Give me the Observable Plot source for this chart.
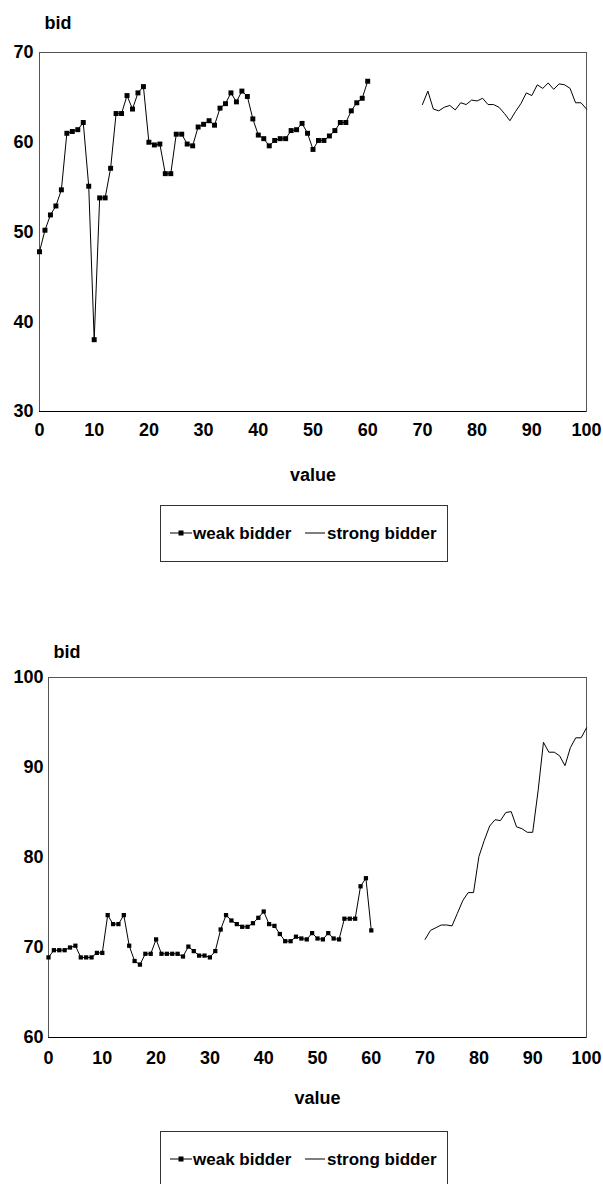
<!DOCTYPE html>
<html>
<head>
<meta charset="utf-8">
<script src="https://cdn.jsdelivr.net/npm/d3@7"></script>
<script src="https://cdn.jsdelivr.net/npm/@observablehq/plot@0.6"></script>
<style>
  html, body { margin: 0; padding: 0; background: #fff; }
  #page { position: relative; width: 603px; height: 1184px; overflow: hidden; font-family: "Liberation Sans", Arial, sans-serif; }
  .chart { position: absolute; left: 0; }
  .legend { position: absolute; left: 160px; width: 286px; height: 55px; border: 1px solid #333; box-sizing: content-box; }
  .legend .lab { position: absolute; font-size: 17px; font-weight: bold; color: #000; line-height: 17px; white-space: nowrap; }
  .legend svg { position: absolute; }
</style>
</head>
<body>
<div id="page"></div>
<script>
// ---- data ----
const xTicks = [0, 10, 20, 30, 40, 50, 60, 70, 80, 90, 100];
const yTicksTop = [30, 40, 50, 60, 70];
const yTicksBottom = [60, 70, 80, 90, 100];
const seriesNames = ["weak bidder", "strong bidder"];

// chart 1: weak bidder values for value = 0..60, strong bidder for value = 70..100
const weakStart = 0;
const strongStart = 70;
const weakTop = [47.8,50.2,51.9,52.9,54.7,61.0,61.2,61.4,62.2,55.1,
  38.0,53.8,53.8,57.1,63.2,63.2,65.2,63.7,65.5,66.2,
  60.0,59.7,59.8,56.5,56.5,60.9,60.9,59.8,59.6,61.7,
  62.0,62.4,61.9,63.8,64.3,65.5,64.5,65.7,65.1,62.6,
  60.8,60.4,59.6,60.2,60.4,60.4,61.3,61.4,62.1,61.0,
  59.2,60.2,60.2,60.7,61.3,62.2,62.2,63.5,64.4,64.9,66.8];
const strongTop = [64.2,65.7,63.7,63.5,63.9,64.1,63.6,64.4,64.2,64.7,
  64.6,64.9,64.2,64.2,63.9,63.2,62.4,63.4,64.3,65.5,
  65.2,66.4,66.0,66.6,65.9,66.5,66.4,66.0,64.4,64.4,63.7];

// chart 2
const weakBottom = [68.9,69.7,69.7,69.7,70.0,70.2,68.9,68.9,68.9,69.4,
  69.4,73.6,72.6,72.6,73.6,70.2,68.5,68.1,69.3,69.3,
  70.9,69.3,69.3,69.3,69.3,69.0,70.1,69.6,69.1,69.1,
  68.9,69.6,72.0,73.6,73.0,72.6,72.3,72.3,72.7,73.3,
  74.0,72.6,72.4,71.5,70.7,70.7,71.2,71.0,70.9,71.6,
  71.0,70.9,71.6,71.0,70.9,73.2,73.2,73.2,76.8,77.7,71.9];
const strongBottom = [70.9,71.9,72.2,72.5,72.5,72.4,73.8,75.2,76.1,76.1,
  80.1,81.9,83.5,84.2,84.1,85.0,85.1,83.4,83.2,82.8,
  82.8,87.4,92.8,91.7,91.7,91.3,90.2,92.2,93.3,93.3,94.4];

const toRows = (vals, start) => vals.map((v, i) => ({value: start + i, bid: v}));

const FONT = '"Liberation Sans", Arial, sans-serif';

function makeChart(cfg) {
  const weak = toRows(cfg.weak, weakStart);
  const strong = toRows(cfg.strong, strongStart);
  return Plot.plot({
    width: 603,
    height: cfg.height,
    marginTop: cfg.mt,
    marginBottom: cfg.mb,
    marginLeft: cfg.ml,
    marginRight: 17,
    style: {fontFamily: FONT, fontSize: "18px", fontWeight: "bold", color: "#000", background: "#fff", overflow: "visible"},
    x: {domain: [0, 100], ticks: xTicks, tickSize: 0, tickPadding: cfg.xpad, label: null},
    y: {domain: cfg.ydomain, ticks: cfg.yticks, tickSize: 0, tickPadding: cfg.ypad, label: null},
    marks: [
      Plot.frame({stroke: "#555", strokeWidth: 1}),
      Plot.ruleY([cfg.ydomain[0]], {stroke: "#000", strokeWidth: 1}),
      Plot.line(weak, {x: "value", y: "bid", stroke: "#000", strokeWidth: 1}),
      Plot.dot(weak, {x: "value", y: "bid", symbol: "square", r: cfg.r, fill: "#000", stroke: "none"}),
      Plot.line(strong, {x: "value", y: "bid", stroke: "#000", strokeWidth: 1}),
      Plot.text(["bid"], {frameAnchor: "top-left", dx: 5, dy: cfg.bidDy, textAnchor: "start", lineAnchor: "middle", fontSize: 18, fontWeight: "bold", fill: "#000"}),
      Plot.text(["value"], {frameAnchor: "bottom", dy: cfg.valueDy, lineAnchor: "middle", fontSize: 18, fontWeight: "bold", fill: "#000"})
    ]
  });
}

function makeLegend(top) {
  const box = document.createElement("div");
  box.className = "legend";
  box.style.top = top + "px";
  // weak swatch: line with square marker
  const ns = "http://www.w3.org/2000/svg";
  const s1 = document.createElementNS(ns, "svg");
  s1.setAttribute("width", 22); s1.setAttribute("height", 12);
  s1.style.left = "9px"; s1.style.top = "21px";
  s1.innerHTML = '<line x1="0" y1="6" x2="22" y2="6" stroke="#000" stroke-width="1"/><rect x="8.5" y="3.5" width="5" height="5" fill="#000"/>';
  box.appendChild(s1);
  const t1 = document.createElement("div");
  t1.className = "lab"; t1.textContent = seriesNames[0];
  t1.style.left = "32px"; t1.style.top = "19px";
  box.appendChild(t1);
  const s2 = document.createElementNS(ns, "svg");
  s2.setAttribute("width", 20); s2.setAttribute("height", 12);
  s2.style.left = "144px"; s2.style.top = "21px";
  s2.innerHTML = '<line x1="0" y1="6" x2="20" y2="6" stroke="#000" stroke-width="1"/>';
  box.appendChild(s2);
  const t2 = document.createElement("div");
  t2.className = "lab"; t2.textContent = seriesNames[1];
  t2.style.left = "166px"; t2.style.top = "19px";
  box.appendChild(t2);
  return box;
}

const page = document.getElementById("page");

const c1 = makeChart({weak: weakTop, strong: strongTop, height: 492, mt: 52, mb: 81, ml: 39,
  ydomain: [30, 70], yticks: yTicksTop, xpad: 12, ypad: 6, r: 2.8, bidDy: -29, valueDy: 64});
c1.classList.add("chart"); c1.style.top = "0px";
page.appendChild(c1);
page.appendChild(makeLegend(505));

const c2 = makeChart({weak: weakBottom, strong: strongBottom, height: 478, mt: 47, mb: 71, ml: 48,
  ydomain: [60, 100], yticks: yTicksBottom, xpad: 14, ypad: 5, r: 2.4, bidDy: -25, valueDy: 61});
c2.classList.add("chart"); c2.style.top = "630px";
page.appendChild(c2);
page.appendChild(makeLegend(1131));
</script>
</body>
</html>
